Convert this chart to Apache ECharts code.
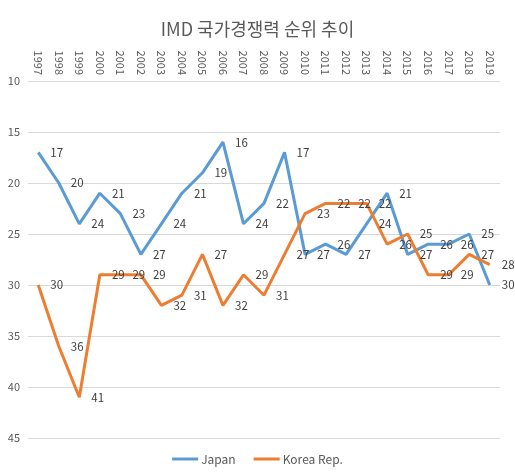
<!DOCTYPE html>
<html>
<head>
<meta charset="utf-8">
<script src="https://cdn.jsdelivr.net/npm/echarts@6/dist/echarts.min.js"></script>
<style>
    html, body { margin: 0; padding: 0; background: #fff; }
    #chart { width: 515px; height: 474px; }
</style>
</head>
<body>
<div id="chart"></div>
<script>
const years = ['1997', '1998', '1999', '2000', '2001', '2002', '2003', '2004', '2005', '2006', '2007', '2008',
    '2009', '2010', '2011', '2012', '2013', '2014', '2015', '2016', '2017', '2018', '2019'];
const japan = [17, 20, 24, 21, 23, 27, 24, 21, 19, 16, 24, 22, 17, 27, 26, 27, 24, 21, 27, 26, 26, 25, 30];
const korea = [30, 36, 41, 29, 29, 29, 32, 31, 27, 32, 29, 31, 27, 23, 22, 22, 22, 26, 25, 29, 29, 27, 28];
const rankTicks = { min: 10, max: 45, interval: 5 };

const font = '"Noto Sans CJK KR", "Noto Sans", sans-serif';

function lineSeries(name, data, color) {
    return {
        name: name,
        type: 'line',
        data: data,
        showSymbol: true,
        symbol: 'circle',
        symbolSize: 0.1,
        lineStyle: { width: 3, color: color },
        itemStyle: { color: color },
        label: {
            show: true,
            position: 'right',
            distance: 12,
            fontSize: 11.5,
            fontFamily: font,
            color: '#404040'
        },
        animation: false
    };
}

const chart = echarts.init(document.getElementById('chart'));
chart.setOption({
    backgroundColor: '#fff',
    title: {
        text: 'IMD 국가경쟁력 순위 추이',
        left: 'center',
        top: 15,
        textStyle: { fontSize: 18, fontWeight: 'normal', color: '#595959', fontFamily: font }
    },
    legend: {
        bottom: 4,
        left: 'center',
        icon: 'rect',
        itemWidth: 26,
        itemHeight: 3,
        itemGap: 18,
        textStyle: { fontSize: 12, color: '#595959', fontFamily: font, padding: [0, 0, 0, -2] },
        data: ['Japan', 'Korea Rep.']
    },
    grid: { left: 28, right: 15, top: 81, bottom: 36, containLabel: false },
    xAxis: {
        type: 'category',
        position: 'top',
        data: years,
        boundaryGap: true,
        axisLine: { show: false },
        axisTick: { show: false },
        axisLabel: { rotate: 90, fontSize: 11, color: '#595959', fontFamily: font, margin: 6, interval: 0 }
    },
    yAxis: {
        type: 'value',
        inverse: true,
        min: rankTicks.min,
        max: rankTicks.max,
        interval: rankTicks.interval,
        axisLine: { show: false },
        axisTick: { show: false },
        axisLabel: { fontSize: 11, color: '#595959', fontFamily: font, margin: 8 },
        splitLine: { lineStyle: { color: '#d9d9d9', width: 1 } }
    },
    series: [
        lineSeries('Japan', japan, '#5b9bd5'),
        lineSeries('Korea Rep.', korea, '#ed7d31')
    ]
});
</script>
</body>
</html>
